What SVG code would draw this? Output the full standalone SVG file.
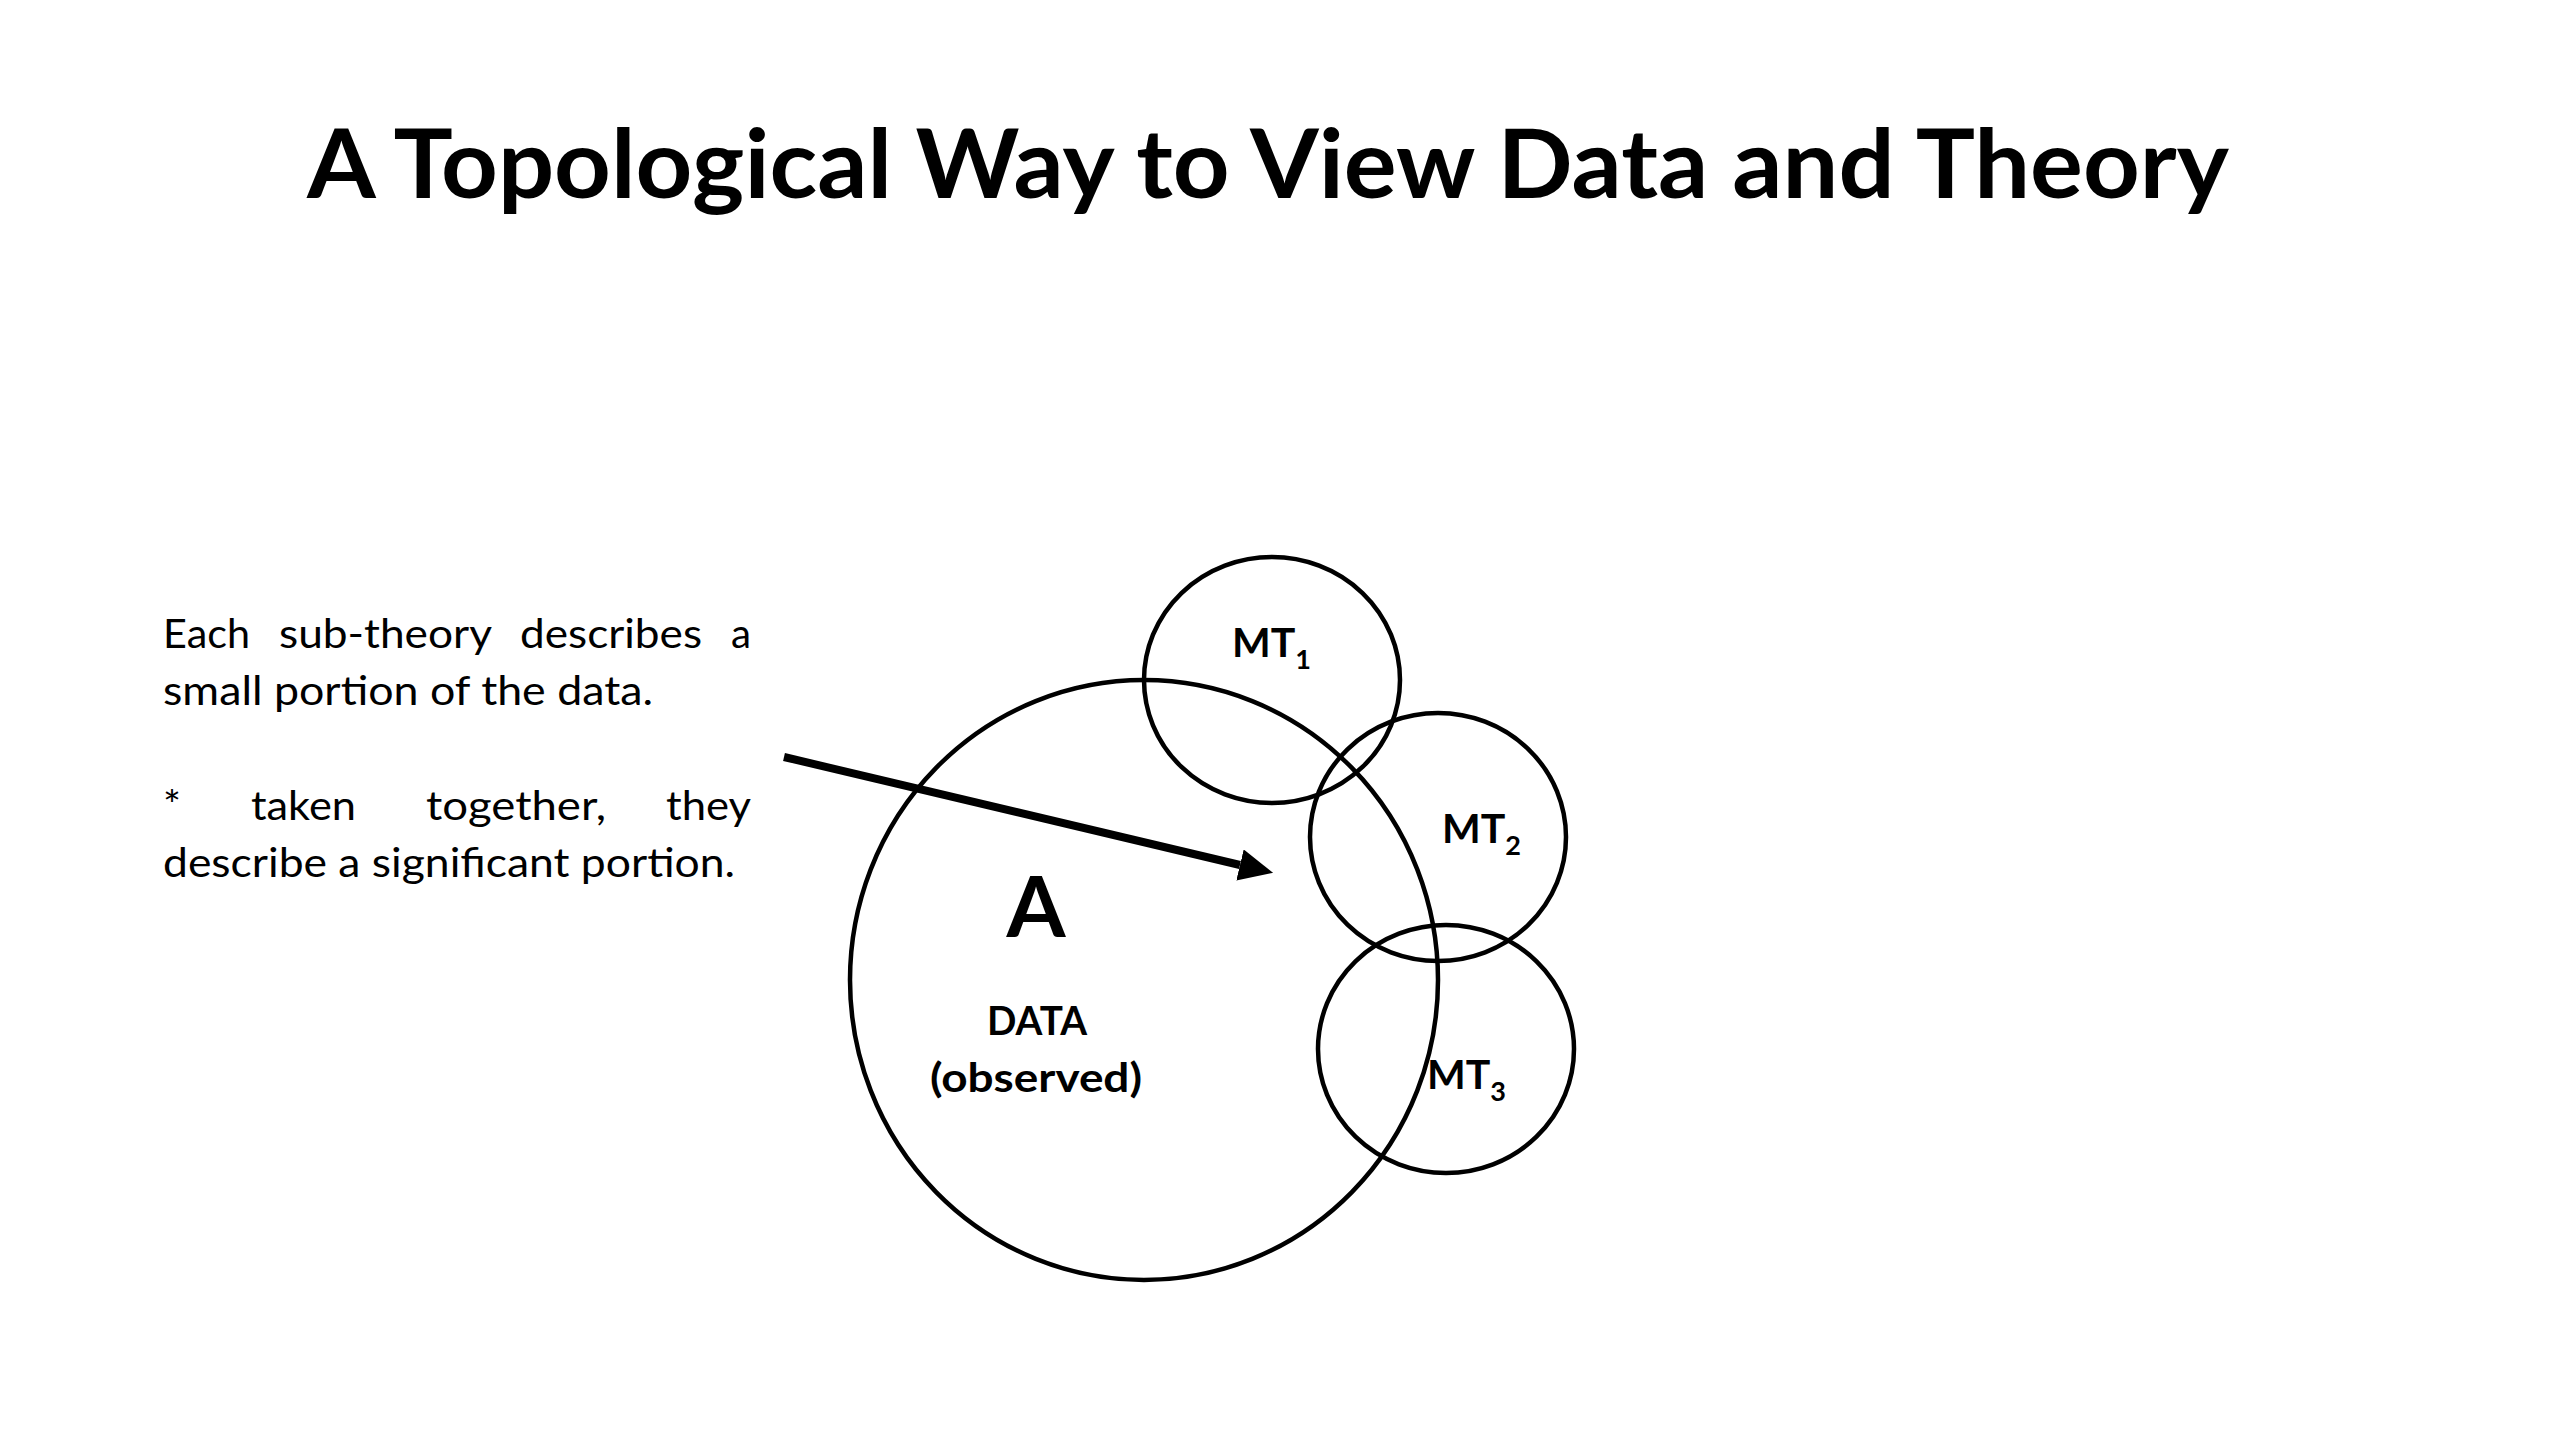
<svg xmlns="http://www.w3.org/2000/svg" width="2560" height="1440" viewBox="0 0 2560 1440">
<style>
.bg{fill:#ffffff}
.ring{fill:none;stroke:#000;stroke-width:4.5}
.title{font-family:Lato,"Open Sans","Liberation Sans",sans-serif;font-weight:bold;font-size:96px;fill:#000}
.body{font-family:Lato,"Open Sans","Liberation Sans",sans-serif;font-size:40px;fill:#000}
.lbl{font-family:Lato,"Open Sans","Liberation Sans",sans-serif;font-weight:bold;font-size:41px;fill:#000}
.big{font-family:Lato,"Open Sans","Liberation Sans",sans-serif;font-weight:bold;font-size:85px;fill:#000}
.sub{font-size:27px}
.arrow{stroke:#000;stroke-width:8;fill:none}
</style>
<defs>
<marker id="head" markerUnits="userSpaceOnUse" markerWidth="34" markerHeight="32" viewBox="0 0 34 32" refX="0" refY="16" orient="auto">
<path d="M0,0 L34,16 L0,32 z" fill="#000"/>
</marker>
</defs>
<rect class="bg" x="0" y="0" width="2560" height="1440"/>
<g id="title">
<text class="title" x="307" y="198" textLength="1922" lengthAdjust="spacingAndGlyphs">A Topological Way to View Data and Theory</text>
</g>
<g id="note">
<text class="body" x="163" y="648" textLength="87" lengthAdjust="spacingAndGlyphs">Each</text>
<text class="body" x="279" y="648" textLength="213" lengthAdjust="spacingAndGlyphs">sub-theory</text>
<text class="body" x="520" y="648" textLength="182" lengthAdjust="spacingAndGlyphs">describes</text>
<text class="body" x="731" y="648" textLength="20" lengthAdjust="spacingAndGlyphs">a</text>
<text class="body" x="163" y="705" textLength="490" lengthAdjust="spacingAndGlyphs">small portion of the data.</text>
<text class="body" x="163" y="820" textLength="18" lengthAdjust="spacingAndGlyphs">*</text>
<text class="body" x="251" y="820" textLength="105" lengthAdjust="spacingAndGlyphs">taken</text>
<text class="body" x="426" y="820" textLength="180" lengthAdjust="spacingAndGlyphs">together,</text>
<text class="body" x="666" y="820" textLength="85" lengthAdjust="spacingAndGlyphs">they</text>
<text class="body" x="163" y="877" textLength="572" lengthAdjust="spacingAndGlyphs">describe a significant portion.</text>
</g>
<g id="node-data">
<ellipse class="ring" cx="1144" cy="980" rx="294" ry="300"/>
<text class="big" x="1036" y="937" text-anchor="middle">A</text>
<text class="lbl" x="1037" y="1035" text-anchor="middle" textLength="100" lengthAdjust="spacingAndGlyphs">DATA</text>
<text class="lbl" x="1036" y="1092" text-anchor="middle" textLength="212" lengthAdjust="spacingAndGlyphs">(observed)</text>
</g>
<g id="node-mt1">
<ellipse class="ring" cx="1272" cy="680" rx="128" ry="123"/>
<text class="lbl" x="1232" y="657">MT<tspan class="sub" dy="12">1</tspan></text>
</g>
<g id="node-mt2">
<ellipse class="ring" cx="1438" cy="837" rx="128" ry="124"/>
<text class="lbl" x="1442" y="843">MT<tspan class="sub" dy="12">2</tspan></text>
</g>
<g id="node-mt3">
<ellipse class="ring" cx="1446" cy="1049" rx="128" ry="124"/>
<text class="lbl" x="1427" y="1089">MT<tspan class="sub" dy="12">3</tspan></text>
</g>
<g id="connectors">
<line class="arrow" x1="784" y1="757" x2="1240" y2="865" marker-end="url(#head)"/>
</g>
</svg>
